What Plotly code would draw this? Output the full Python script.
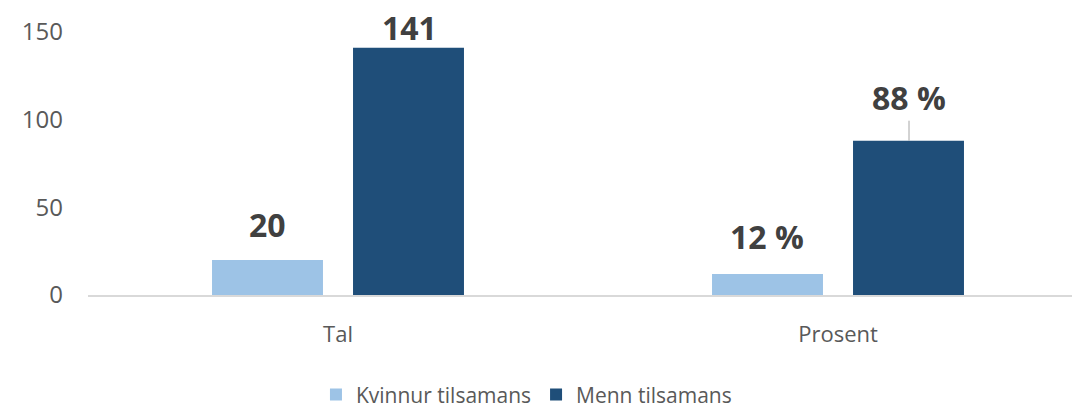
import plotly.graph_objects as go

categories = ["Tal", "Prosent"]
kvinnur = [20, 12]
menn = [141, 88]
kvinnur_labels = ["20", "12 %"]
menn_labels = ["141", "88 %"]
y_ticks = [0, 50, 100, 150]

C_K = "#9DC3E6"
C_M = "#1F4E79"
FONT = "Open Sans"

fig = go.Figure()
fig.add_trace(go.Bar(name="Kvinnur tilsamans", x=categories, y=kvinnur,
                     marker=dict(color=C_K, line=dict(width=0))))
fig.add_trace(go.Bar(name="Menn tilsamans", x=categories, y=menn,
                     marker=dict(color=C_M, line=dict(width=0))))

# label placement (style): pixel offset of label centre above bar top
k_shift = [35, 37]
m_shift = [20, 43]
bar_off = 71

for i, c in enumerate(categories):
    fig.add_annotation(x=c, y=kvinnur[i], text=f"<b>{kvinnur_labels[i]}</b>",
                       showarrow=False, xshift=-bar_off, yshift=k_shift[i],
                       yanchor="middle", font=dict(size=32, color="#404040", family=FONT))
    if i == 1:
        fig.add_annotation(x=c, y=menn[i], text=f"<b>{menn_labels[i]}</b>",
                           showarrow=True, arrowhead=0, arrowwidth=1, arrowcolor="#A6A6A6",
                           ax=0, ay=-m_shift[i], xshift=bar_off, standoff=0,
                           font=dict(size=32, color="#404040", family=FONT))
    else:
        fig.add_annotation(x=c, y=menn[i], text=f"<b>{menn_labels[i]}</b>",
                           showarrow=False, xshift=bar_off, yshift=m_shift[i],
                           yanchor="middle", font=dict(size=32, color="#404040", family=FONT))

# page body has an 8px margin; figure coordinates are offset accordingly
fig.update_layout(
    width=1080, height=412,
    margin=dict(l=80, r=8, t=24, b=125, autoexpand=False),
    paper_bgcolor="white", plot_bgcolor="white",
    barmode="group", bargap=0.436, bargroupgap=0.213,
    font=dict(family=FONT, color="#595959"),
    showlegend=True,
    legend=dict(orientation="h", x=0.442, xanchor="center", y=-0.38, yanchor="middle",
                font=dict(size=21, color="#595959"), itemwidth=30,
                traceorder="normal", itemclick=False, tracegroupgap=0),
)
fig.update_xaxes(range=[-0.5, 1.484], showline=True, linecolor="#D9D9D9", linewidth=1.5,
                 ticks="", tickfont=dict(size=22, color="#595959"), ticklabelstandoff=19,
                 showgrid=False, zeroline=False, automargin=False)
fig.update_yaxes(range=[0, 150], tickvals=y_ticks, showgrid=False, zeroline=False,
                 showline=False, ticks="", tickfont=dict(size=24, color="#595959"),
                 ticklabelstandoff=24, automargin=False)

fig.write_html("out.html")
